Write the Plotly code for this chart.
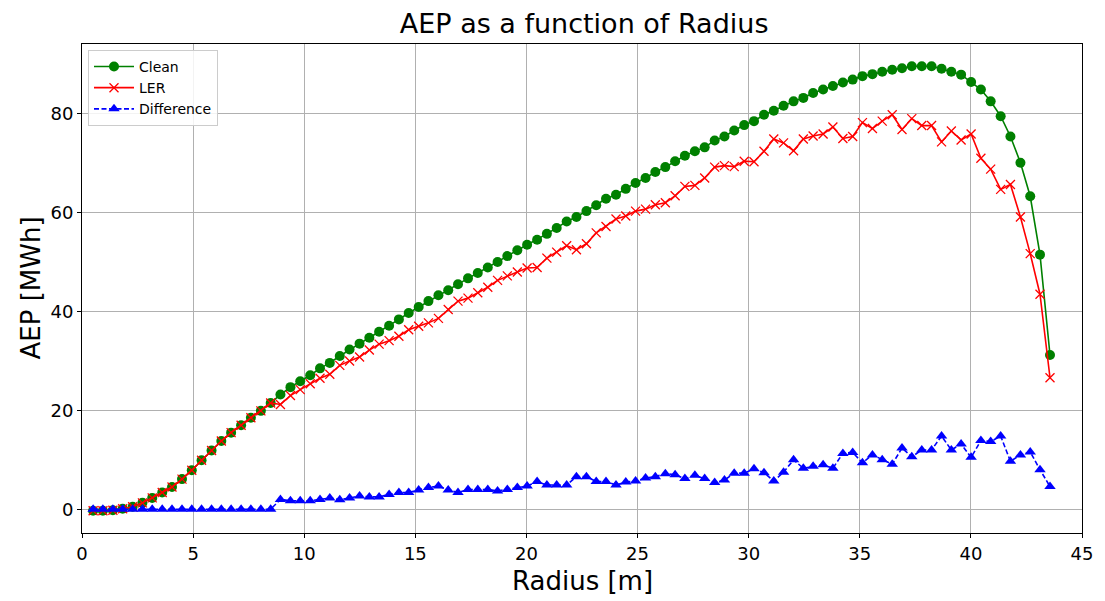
import plotly.graph_objects as go

radius = [0.50, 0.94, 1.39, 1.83, 2.28, 2.72, 3.16, 3.61, 4.05, 4.50,
          4.94, 5.38, 5.83, 6.27, 6.71, 7.16, 7.60, 8.05, 8.49, 8.93,
          9.38, 9.82, 10.27, 10.71, 11.15, 11.60, 12.04, 12.49, 12.93, 13.37,
          13.82, 14.26, 14.70, 15.15, 15.59, 16.04, 16.48, 16.92, 17.37, 17.81,
          18.26, 18.70, 19.14, 19.59, 20.03, 20.48, 20.92, 21.36, 21.81, 22.25,
          22.70, 23.14, 23.58, 24.03, 24.47, 24.91, 25.36, 25.80, 26.25, 26.69,
          27.13, 27.58, 28.02, 28.47, 28.91, 29.35, 29.80, 30.24, 30.69, 31.13,
          31.57, 32.02, 32.46, 32.90, 33.35, 33.79, 34.24, 34.68, 35.12, 35.57,
          36.01, 36.46, 36.90, 37.34, 37.79, 38.23, 38.68, 39.12, 39.56, 40.01,
          40.45, 40.89, 41.34, 41.78, 42.23, 42.67, 43.11, 43.56]

clean = [-0.3, -0.3, -0.2, 0.1, 0.5, 1.3, 2.3, 3.4, 4.5, 6.1,
         7.9, 9.9, 11.9, 13.8, 15.5, 17.0, 18.5, 19.9, 21.5, 23.2,
         24.7, 25.9, 27.1, 28.5, 29.6, 31.0, 32.3, 33.5, 34.7, 35.9,
         37.1, 38.4, 39.7, 40.9, 42.1, 43.3, 44.3, 45.5, 46.7, 47.8,
         48.9, 50.0, 51.2, 52.4, 53.5, 54.5, 55.7, 56.9, 58.2, 59.1,
         60.3, 61.5, 62.8, 63.6, 64.8, 66.0, 67.0, 68.2, 69.2, 70.4,
         71.5, 72.4, 73.2, 74.6, 75.4, 76.6, 77.7, 78.5, 79.8, 80.6,
         81.6, 82.5, 83.2, 84.2, 84.9, 85.6, 86.3, 86.9, 87.6, 88.0,
         88.5, 88.9, 89.2, 89.6, 89.6, 89.6, 89.1, 88.5, 87.9, 86.4,
         84.9, 82.5, 79.5, 75.4, 70.1, 63.3, 51.5, 31.2]

ler = [-0.3, -0.3, -0.2, 0.1, 0.5, 1.3, 2.3, 3.4, 4.5, 6.1,
       7.9, 9.9, 11.9, 13.8, 15.5, 17.0, 18.5, 19.9, 21.5, 21.2,
       23.0, 24.2, 25.4, 26.5, 27.3, 29.1, 30.0, 30.8, 32.2, 33.4,
       34.1, 35.0, 36.3, 37.0, 37.7, 38.6, 40.4, 42.1, 42.7, 43.8,
       44.9, 46.3, 47.2, 48.0, 48.8, 48.9, 50.8, 52.0, 53.3, 52.5,
       53.7, 55.9, 57.2, 58.7, 59.3, 60.3, 60.7, 61.6, 62.0, 63.4,
       65.3, 65.5, 67.0, 69.2, 69.5, 69.3, 70.4, 70.3, 72.4, 74.9,
       74.1, 72.5, 74.9, 75.5, 75.9, 77.3, 75.0, 75.4, 78.2, 77.0,
       78.5, 79.8, 76.8, 79.0, 77.6, 77.6, 74.3, 76.5, 74.7, 75.9,
       71.0, 68.8, 64.7, 65.7, 59.1, 51.7, 43.5, 26.6]

difference = [0.0, 0.0, 0.0, 0.0, 0.0, 0.0, 0.0, 0.0, 0.0, 0.0,
              0.0, 0.0, 0.0, 0.0, 0.0, 0.0, 0.0, 0.0, 0.0, 2.0,
              1.7, 1.7, 1.7, 2.0, 2.3, 1.9, 2.3, 2.7, 2.5, 2.5,
              3.0, 3.4, 3.4, 3.9, 4.4, 4.7, 3.9, 3.4, 4.0, 4.0,
              4.0, 3.7, 4.0, 4.4, 4.7, 5.6, 4.9, 4.9, 4.9, 6.6,
              6.6, 5.6, 5.6, 4.9, 5.5, 5.7, 6.3, 6.6, 7.2, 7.0,
              6.2, 6.9, 6.2, 5.4, 5.9, 7.3, 7.3, 8.2, 7.4, 5.7,
              7.5, 10.0, 8.3, 8.7, 9.0, 8.3, 11.3, 11.5, 9.4, 11.0,
              10.0, 9.1, 12.4, 10.6, 12.0, 12.0, 14.8, 12.0, 13.2, 10.5,
              13.9, 13.7, 14.8, 9.7, 11.0, 11.6, 8.0, 4.6]

x_ticks = [0, 5, 10, 15, 20, 25, 30, 35, 40, 45]
y_ticks = [0, 20, 40, 60, 80]

FONT = "DejaVu Sans"

fig = go.Figure()
fig.add_trace(go.Scatter(
    x=radius, y=clean, name="Clean", mode="lines+markers",
    line=dict(color="#008000", width=1.6),
    marker=dict(symbol="circle", size=10, color="#008000"),
))
fig.add_trace(go.Scatter(
    x=radius, y=ler, name="LER", mode="lines+markers",
    line=dict(color="#ff0000", width=1.6),
    marker=dict(symbol="x-thin", size=9, color="#ff0000",
                line=dict(color="#ff0000", width=1.3)),
))
fig.add_trace(go.Scatter(
    x=radius, y=difference, name="Difference", mode="lines+markers",
    line=dict(color="#0000ff", width=1.6, dash="5px,2.5px"),
    marker=dict(symbol="triangle-up", size=10, color="#0000ff"),
))

axis_common = dict(
    showgrid=True, gridcolor="#b0b0b0", gridwidth=1,
    showline=True, linecolor="#000000", linewidth=1, mirror=True,
    ticks="outside", ticklen=4, tickcolor="#000000",
    tickfont=dict(family=FONT, size=18, color="#000000"),
    zeroline=False,
)

fig.update_layout(
    width=1105, height=601,
    margin=dict(l=82, r=19, t=44, b=68),
    paper_bgcolor="white", plot_bgcolor="white",
    font=dict(family=FONT, color="#000000"),
    title=dict(text="AEP as a function of Radius", x=0.5286, xanchor="center",
               y=1 - 24 / 601, yanchor="middle", yref="container",
               font=dict(family=FONT, size=27, color="#000000")),
    xaxis=dict(range=[0, 45], tickvals=x_ticks, **axis_common),
    yaxis=dict(range=[-4.8, 94.1], tickvals=y_ticks, **axis_common),
    showlegend=True,
    legend=dict(x=0.006, y=0.988, xanchor="left", yanchor="top",
                bgcolor="rgba(255,255,255,0.85)", bordercolor="#cccccc",
                borderwidth=1, font=dict(family=FONT, size=14, color="#000000"),
                itemwidth=40, tracegroupgap=0),
    annotations=[
        dict(text="Radius [m]", xref="paper", yref="paper", x=0.5, y=0.0,
             xanchor="center", yanchor="middle", yshift=-48, showarrow=False,
             font=dict(family=FONT, size=26, color="#000000")),
        dict(text="AEP [MWh]", xref="paper", yref="paper", x=0.0, y=0.5,
             xanchor="center", yanchor="middle", xshift=-52, showarrow=False,
             textangle=-90, font=dict(family=FONT, size=26, color="#000000")),
    ],
)

fig.write_html("out.html")
